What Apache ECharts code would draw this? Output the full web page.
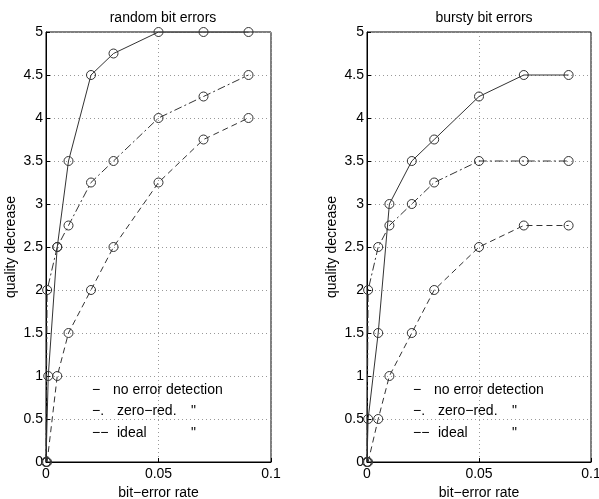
<!DOCTYPE html>
<html>
<head>
<meta charset="utf-8">
<script src="https://cdn.jsdelivr.net/npm/echarts@6/dist/echarts.min.js"></script>
<style>
  html, body { margin: 0; padding: 0; background: #fff; }
  #main { width: 599px; height: 499px; }
</style>
</head>
<body>
<div id="main"></div>
<script>
// panel titles and axis names
var titles = ['random bit errors', 'bursty bit errors'];
var xName = 'bit\u2212error rate';
var yName = 'quality decrease';

// random bit errors : [rate, quality decrease]
var randNoDet = [[0, 0], [0.001, 1], [0.005, 2.5], [0.01, 3.5], [0.02, 4.5], [0.03, 4.75], [0.05, 5], [0.07, 5], [0.09, 5]];
var randZero = [[0, 0], [0.0005, 2], [0.005, 2.5], [0.01, 2.75], [0.02, 3.25], [0.03, 3.5], [0.05, 4], [0.07, 4.25], [0.09, 4.5]];
var randIdeal = [[0.0005, 0], [0.005, 1], [0.01, 1.5], [0.02, 2], [0.03, 2.5], [0.05, 3.25], [0.07, 3.75], [0.09, 4]];

// bursty bit errors
var burstNoDet = [[0, 0], [0.0005, 0.5], [0.005, 1.5], [0.01, 3], [0.02, 3.5], [0.03, 3.75], [0.05, 4.25], [0.07, 4.5], [0.09, 4.5]];
var burstZero = [[0, 0], [0.0005, 2], [0.005, 2.5], [0.01, 2.75], [0.02, 3], [0.03, 3.25], [0.05, 3.5], [0.07, 3.5], [0.09, 3.5]];
var burstIdeal = [[0.0005, 0], [0.005, 0.5], [0.01, 1], [0.02, 1.5], [0.03, 2], [0.05, 2.5], [0.07, 2.75], [0.09, 2.75]];

var legendMarks = ['\u2212', '\u2212.', '\u2212\u2212'];
var legendTexts = ['no error detection', 'zero\u2212red.', 'ideal'];

var FONT = '"Liberation Sans", Arial, sans-serif';
var chart = echarts.init(document.getElementById('main'));

function xAx(i) {
  return {
    gridIndex: i, type: 'value', min: 0, max: 0.1, interval: 0.05,
    name: xName, nameLocation: 'middle', nameGap: 22,
    nameTextStyle: { color: '#000', fontSize: 14, fontFamily: FONT },
    axisLine: { lineStyle: { color: '#000', width: 1 } },
    axisTick: { inside: true, length: 4, lineStyle: { color: '#000' } },
    axisLabel: { color: '#000', fontSize: 14, fontFamily: FONT, margin: 5 },
    splitLine: { show: true, lineStyle: { color: '#999', type: [1, 3], width: 1 } }
  };
}
function yAx(i) {
  return {
    gridIndex: i, type: 'value', min: 0, max: 5, interval: 0.5,
    name: yName, nameLocation: 'middle', nameGap: 28, nameRotate: 90,
    nameTextStyle: { color: '#000', fontSize: 14, fontFamily: FONT },
    axisLine: { show: true, lineStyle: { color: '#000', width: 1 } },
    axisTick: { show: true, inside: true, length: 4, lineStyle: { color: '#000' } },
    axisLabel: { color: '#000', fontSize: 14, fontFamily: FONT, margin: 3 },
    splitLine: { show: true, lineStyle: { color: '#999', type: [1, 3], width: 1 } }
  };
}
function line(i, data, dash) {
  return {
    type: 'line', xAxisIndex: i, yAxisIndex: i, data: data,
    symbol: 'circle', symbolSize: 9, showSymbol: true,
    itemStyle: { color: 'transparent', borderColor: '#333', borderWidth: 1 },
    lineStyle: { color: '#333', width: 1, type: dash },
    animation: false, silent: true, z: 3
  };
}

function legendGraphics(x0) {
  var g = [];
  for (var k = 0; k < 3; k++) {
    var y = 383 + k * 21.5;
    g.push({ type: 'text', left: x0, top: y, style: { text: legendMarks[k], fill: '#000', font: '14px ' + FONT } });
    g.push({ type: 'text', left: x0 + (k === 0 ? 21 : 25), top: y, style: { text: legendTexts[k], fill: '#000', font: '14px ' + FONT } });
    if (k > 0) g.push({ type: 'text', left: x0 + 99, top: y, style: { text: '"', fill: '#000', font: '14px ' + FONT } });
  }
  return g;
}

var option = {
  backgroundColor: '#fff',
  animation: false,
  title: [
    { text: titles[0], left: 158, top: 6, textAlign: 'center', textStyle: { fontSize: 14, fontWeight: 'normal', color: '#000', fontFamily: FONT } },
    { text: titles[1], left: 479, top: 6, textAlign: 'center', textStyle: { fontSize: 14, fontWeight: 'normal', color: '#000', fontFamily: FONT } }
  ],
  grid: [
    { left: 46, right: 328, top: 32, bottom: 37, outerBoundsMode: 'none', show: true, borderColor: '#000', borderWidth: 1, backgroundColor: '#fff' },
    { left: 367, right: 8, top: 32, bottom: 37, outerBoundsMode: 'none', show: true, borderColor: '#000', borderWidth: 1, backgroundColor: '#fff' }
  ],
  xAxis: [xAx(0), xAx(1)],
  yAxis: [yAx(0), yAx(1)],
  series: [
    line(0, randNoDet, 'solid'),
    line(0, randZero, [8, 3, 2, 3]),
    line(0, randIdeal, [6, 4]),
    line(1, burstNoDet, 'solid'),
    line(1, burstZero, [8, 3, 2, 3]),
    line(1, burstIdeal, [6, 4])
  ],
  graphic: legendGraphics(92).concat(legendGraphics(413))
};
chart.setOption(option);
</script>
</body>
</html>
